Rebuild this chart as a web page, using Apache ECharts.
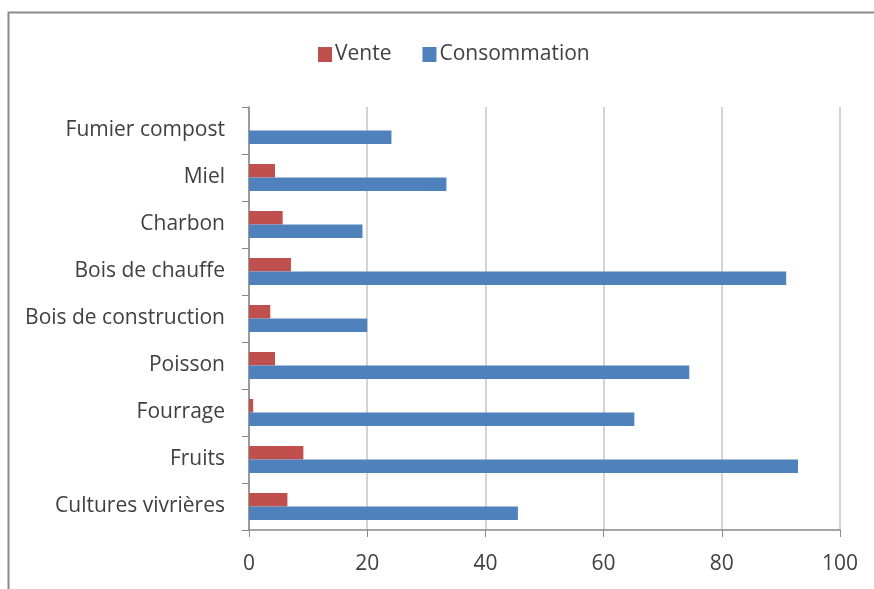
<!DOCTYPE html>
<html lang="fr">
<head>
    <meta charset="UTF-8">
    <title>Vente et consommation</title>
    <script type="text/javascript" src="https://cdn.jsdelivr.net/npm/echarts@6/dist/echarts.min.js"></script>
    <style>
        html, body { margin: 0; padding: 0; background: #fff; }
        #bar_container { width: 874px; height: 589px; }
    </style>
</head>
<body>
    <div id="bar_container"></div>

<script type="text/javascript">
    // categories listed bottom to top (category y axis starts at the bottom)
    var categories = ['Cultures vivrières', 'Fruits', 'Fourrage', 'Poisson', 'Bois de construction',
                      'Bois de chauffe', 'Charbon', 'Miel', 'Fumier compost'];
    var vente        = [6.5, 9.2, 0.7, 4.4, 3.6, 7.1, 5.7, 4.4, 0];
    var consommation = [45.5, 92.9, 65.2, 74.5, 20.0, 90.9, 19.2, 33.4, 24.1];
    var xTicks = [0, 20, 40, 60, 80, 100];

    var font = 'Open Sans';
    var myChart = echarts.init(document.getElementById("bar_container"));

    myChart.setOption({
        animation: false,
        textStyle: { fontFamily: font },
        legend: {
            data: ['Vente', 'Consommation'],
            left: 313,
            top: 39,
            itemWidth: 14,
            itemHeight: 15,
            itemGap: 31,
            icon: 'rect',
            textStyle: { fontFamily: font, fontSize: 21, color: '#404040', padding: [0, 0, 0, -2] }
        },
        graphic: [{
            type: 'rect',
            shape: { x: 8.5, y: 12.5, width: 900, height: 600 },
            style: { fill: 'none', stroke: '#8a8a8a', lineWidth: 2 },
            silent: true
        }],
        grid: { left: 249, right: 34, top: 107, bottom: 59 },
        xAxis: {
            type: 'value',
            min: xTicks[0],
            max: xTicks[xTicks.length - 1],
            interval: 20,
            axisLine: { show: true, lineStyle: { color: '#888', width: 1.5 } },
            axisTick: { show: true, length: 7, lineStyle: { color: '#888' } },
            axisLabel: { fontSize: 21, color: '#404040', margin: 24, fontFamily: font },
            splitLine: { show: true, lineStyle: { color: '#d4d4d4', width: 2 } }
        },
        yAxis: {
            type: 'category',
            data: categories,
            axisLine: { show: true, lineStyle: { color: '#888', width: 1.5 } },
            axisTick: { show: true, length: 7, lineStyle: { color: '#888' } },
            axisLabel: { fontSize: 21, color: '#404040', margin: 24, fontFamily: font },
            splitLine: { show: false }
        },
        series: [
            {
                name: 'Vente',
                type: 'bar',
                data: vente,
                barWidth: 13.5,
                barGap: '0%',
                itemStyle: { color: '#C0504D' }
            },
            {
                name: 'Consommation',
                type: 'bar',
                data: consommation,
                barWidth: 13.5,
                barGap: '0%',
                itemStyle: { color: '#4F81BD' }
            }
        ]
    });
</script>
</body>
</html>
